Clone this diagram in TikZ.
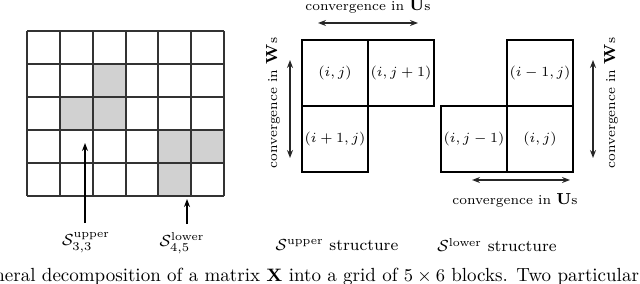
\documentclass[tikz,border=0pt]{standalone}
\usepackage{amsmath}
\usetikzlibrary{arrows.meta}
\begin{document}
\begin{tikzpicture}[x=0.5pt,y=-0.5pt,
  gridline/.style={draw=black!80, line width=0.75pt},
  shadedcell/.style={fill=black!18},
  cell/.style={draw=black, line width=0.65pt, minimum size=33pt, inner sep=0pt, font=\fontsize{7.5}{9}\selectfont},
  dblarrow/.style={{Stealth[length=4pt,width=3pt]}-{Stealth[length=4pt,width=3pt]}, line width=0.65pt, draw=black!85},
  uparrow/.style={-{Stealth[length=4pt,width=3pt]}, line width=0.65pt},
  conv/.style={font=\fontsize{6.8}{8}\selectfont, inner sep=0pt},
  lbl/.style={font=\fontsize{8.2}{10}\selectfont, inner sep=0pt},
  capt/.style={font=\fontsize{9.5}{11}\selectfont, inner sep=0pt, anchor=base west}
]
\useasboundingbox (0,0) rectangle (640,283);
% grid shading
\fill[shadedcell] (93,64) rectangle (126,97);
\fill[shadedcell] (60,97) rectangle (126,130);
\fill[shadedcell] (158,130) rectangle (224,163);
\fill[shadedcell] (158,163) rectangle (191,196);
% grid lines
\foreach \x in {27,60,93,126,158,191,224} \draw[gridline] (\x,31) -- (\x,196);
\foreach \y in {31,64,97,130,163,196} \draw[gridline] (27,\y) -- (224,\y);
% labels under grid
\node[lbl] (s33) at (86,243) {$\mathcal{S}^{\text{upper}}_{3,3}$};
\node[lbl] (s45) at (182,243) {$\mathcal{S}^{\text{lower}}_{4,5}$};
\coordinate (a33) at (85,223);
\coordinate (t33) at (85,143);
\coordinate (a45) at (187,224);
\coordinate (t45) at (187,199);
\draw[uparrow] (a33) -- (t33);
\draw[uparrow] (a45) -- (t45);
% upper structure
\node[cell] (uij) at (335,73) {$(i,j)$};
\node[cell] (uij1) at (401,73) {$(i,j+1)$};
\node[cell] (ui1j) at (335,139) {$(i+1,j)$};
\coordinate (ua1) at (318,23);
\coordinate (ua2) at (418,23);
\draw[dblarrow] (ua1) -- (ua2);
\node[conv] (uconv) at (368,6) {convergence in {\fontsize{8.2}{9}\selectfont$\mathbf{U}$}s};
\coordinate (ub1) at (290,60);
\coordinate (ub2) at (290,158);
\draw[dblarrow] (ub1) -- (ub2);
\node[conv, rotate=90] (uconvw) at (273,103) {convergence in {\fontsize{8.2}{9}\selectfont$\mathbf{W}$}s};
% lower structure
\node[cell] (lim1j) at (540,73) {$(i-1,j)$};
\node[cell] (lijm1) at (474,139) {$(i,j-1)$};
\node[cell] (lij) at (540,139) {$(i,j)$};
\coordinate (la1) at (472,180);
\coordinate (la2) at (570,180);
\draw[dblarrow] (la1) -- (la2);
\node[conv] (lconv) at (515,200) {convergence in {\fontsize{8.2}{9}\selectfont$\mathbf{U}$}s};
\coordinate (lb1) at (593,60);
\coordinate (lb2) at (593,158);
\draw[dblarrow] (lb1) -- (lb2);
\node[conv, rotate=90] (lconvw) at (611,103) {convergence in {\fontsize{8.2}{9}\selectfont$\mathbf{W}$}s};
% structure labels
\node[lbl] (upst) at (337,245) {$\mathcal{S}^{\text{upper}}$ structure};
\node[lbl] (lost) at (497,245) {$\mathcal{S}^{\text{lower}}$ structure};
% caption (cut off)
\begin{scope}
\clip (0,0) rectangle (640,283);
\node[capt] (cap) at (-6,281) {\llap{Ge}neral decomposition of a matrix $\mathbf{X}$ into a grid of $5\times 6$ blocks. Two particular};
\end{scope}
\end{tikzpicture}
\end{document}
